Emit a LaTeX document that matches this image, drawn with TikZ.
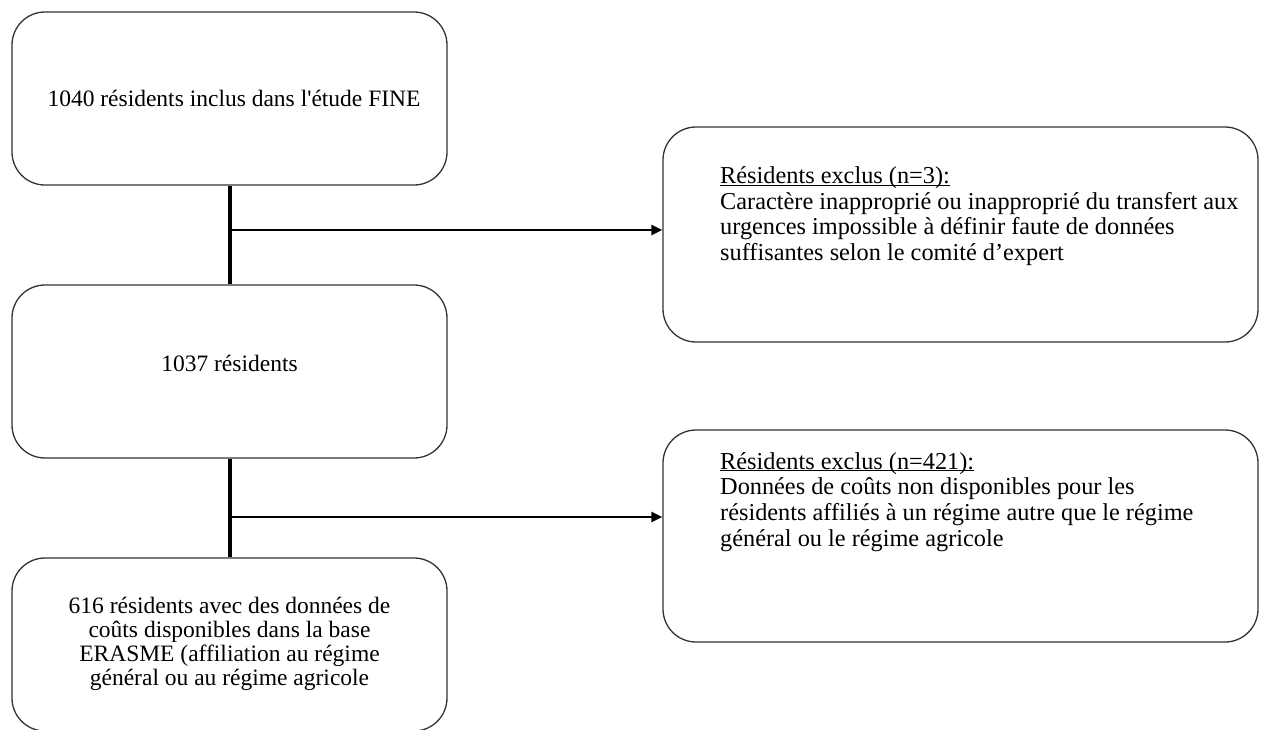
\documentclass[tikz,border=0pt]{standalone}
\usepackage{fontspec}
\setmainfont{Liberation Serif}
\usetikzlibrary{arrows.meta}
\newcommand{\ulhead}[1]{\underline{\raisebox{0pt}[\height][0pt]{#1}}}
\begin{document}
\begin{tikzpicture}[x=1pt,y=-1pt,
  box/.style={draw=black!80, line width=1.3pt, rounded corners=33pt, inner sep=0pt},
  txt/.style={inner sep=0pt, font=\fontsize{23.5}{24}\selectfont},
  rtxt/.style={inner sep=0pt, align=left, anchor=west, font=\fontsize{24.3}{25.7}\selectfont},
  stem/.style={line width=4pt},
  branch/.style={line width=2.5pt, -{Triangle[length=11pt,width=10pt]}}]
\useasboundingbox (0,0) rectangle (1264,729);
\clip (0,0) rectangle (1264,729);
% left boxes
\node[box, minimum width=435pt, minimum height=173pt] (b1) at (229.5,98.5) {};
\node[box, minimum width=435pt, minimum height=173pt] (b2) at (229.5,371.5) {};
\node[box, minimum width=435pt, minimum height=173pt] (b3) at (229.5,644.5) {};
\node[txt] (t1) at (234,98) {1040 résidents inclus dans l\textquotesingle étude FINE};
\node[txt] (t2) at (229.5,363) {1037 résidents};
\node[txt, align=center] (t3) at (229.5,644) {616 résidents avec des données de\\coûts disponibles dans la base\\ERASME (affiliation au régime\\général ou au régime agricole};
% right boxes
\node[box, minimum width=595pt, minimum height=215pt] (r1) at (960.5,234.5) {};
\node[box, minimum width=595pt, minimum height=212pt] (r2) at (960.5,536) {};
\node[rtxt] (u1) at (720,216) {\ulhead{Résidents exclus (n=3):}\\Caractère inapproprié ou inapproprié du transfert aux\\urgences impossible à définir faute de données\\suffisantes selon le comité d’expert};
\node[rtxt] (u2) at (720,502) {\ulhead{Résidents exclus (n=421):}\\Données de coûts non disponibles pour les\\résidents affiliés à un régime autre que le régime\\général ou le régime agricole};
% connectors
\draw[stem] (b1.south) -- (b2.north);
\draw[stem] (b2.south) -- (b3.north);
\coordinate (j1) at (229.5,230);
\coordinate (j2) at (229.5,517);
\draw[branch] (j1) -- (j1 -| r1.west);
\draw[branch] (j2) -- (j2 -| r2.west);
\end{tikzpicture}
\end{document}
